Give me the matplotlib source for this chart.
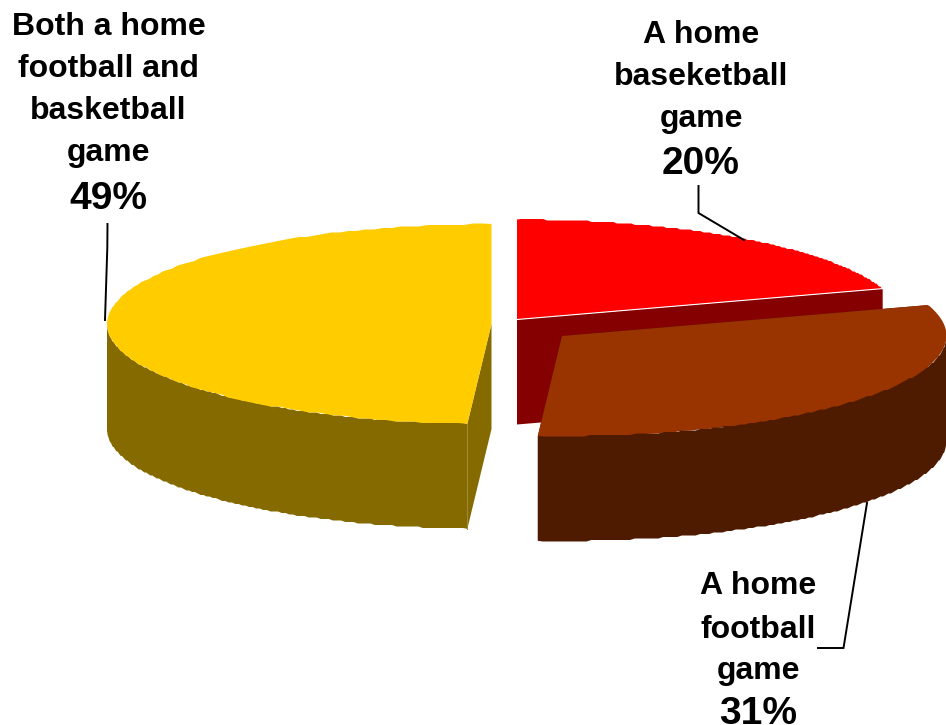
import numpy as np
import matplotlib
matplotlib.use("Agg")
import matplotlib.pyplot as plt

# Survey shares, clockwise from twelve o'clock
categories = ["A home\nbaseketball\ngame", "A home\nfootball\ngame",
              "Both a home\nfootball and\nbasketball\ngame"]
shares = [20, 31, 49]
top_colors = ["#FF0000", "#993300", "#FFCC00"]
wall_colors = ["#850000", "#4F1B00", "#856A00"]

# Exploded centres of the slices, in pixel coordinates
centers = [(517, 319.5), (562, 336), (491.5, 324)]
RX, RY, DEPTH = 384.5, 100, 105
STEP = 1.5  # the rim is drawn as a fine staircase

fig = plt.figure(figsize=(9.46, 7.25), dpi=100, facecolor="white")
ax = fig.add_axes([0, 0, 1, 1])
ax.set_xlim(0, 946)
ax.set_ylim(725, 0)
ax.axis("off")
plt.rcParams["font.family"] = ["Liberation Sans", "DejaVu Sans"]


def rim(center, a0, a1):
    """Outline points of the ellipse between two clockwise angles from the top."""
    t = np.radians(np.linspace(a0, a1, 130))
    x = center[0] + RX * np.sin(t)
    y = center[1] - RY * np.cos(t)
    y[1:-1] = np.round(y[1:-1] / STEP) * STEP
    return x, y


edges = np.concatenate([[0], np.cumsum(shares)]) * 3.6

# Red goes first, then yellow, and the pulled-out brown slice on top
for i in (0, 2, 1):
    a0, a1 = edges[i], edges[i + 1]
    c = centers[i]
    x, y = rim(c, a0, a1)

    # Cut faces
    for ex, ey in ((x[0], y[0]), (x[-1], y[-1])):
        ax.fill([c[0], ex, ex, c[0]], [c[1], ey, ey + DEPTH, c[1] + DEPTH],
                color=wall_colors[i], lw=0, zorder=i * 3 + 1)

    # Outer wall, only where the rim faces the viewer
    w0, w1 = max(a0, 90), min(a1, 270)
    if w1 > w0:
        wx, wy = rim(c, w0, w1)
        ax.fill(np.r_[wx, wx[::-1]], np.r_[wy, wy[::-1] + DEPTH],
                color=wall_colors[i], lw=0, zorder=i * 3 + 2)

    # Top face
    ax.fill(np.r_[c[0], x], np.r_[c[1], y],
            color=top_colors[i], lw=0, zorder=i * 3 + 3)

# Thin highlight along the front edge of the red slice
rx, ry = rim(centers[0], edges[0], edges[1])
ax.plot([centers[0][0], rx[-1]], [centers[0][1], ry[-1]],
        color="white", lw=0.8, zorder=3.5)
# Crease between the yellow wall and its cut face
yx, yy = rim(centers[2], edges[2], edges[3])
ax.plot([yx[0], yx[0]], [yy[0], yy[0] + DEPTH], color="#A08A3A", lw=0.7, zorder=9)

# Leader lines
leaders = [([698.5, 698.5, 744], [186, 213, 240]),
           ([867, 843.5, 818], [503, 648, 648]),
           ([107.5, 107.3, 105], [224, 248, 320])]
for lx, ly in leaders:
    ax.plot(lx, ly, color="black", lw=1.4, solid_joinstyle="miter", zorder=20)

# Category names and percentages
label_layout = [(701, [31, 73, 115], 160),
                (758, [583, 626, 668], 710),
                (108.5, [23, 65, 107, 149], 195)]
for name, pct, (cx, line_ys, pct_y) in zip(categories, shares, label_layout):
    for line, ly in zip(name.split("\n"), line_ys):
        ax.text(cx, ly, line, ha="center", va="center_baseline", fontsize=23,
                fontweight="bold", color="black", zorder=30)
    ax.text(cx, pct_y, f"{pct}%", ha="center", va="center_baseline", fontsize=28,
            fontweight="bold", color="black", zorder=30)

fig.savefig("out.png", dpi=100, facecolor="white")
